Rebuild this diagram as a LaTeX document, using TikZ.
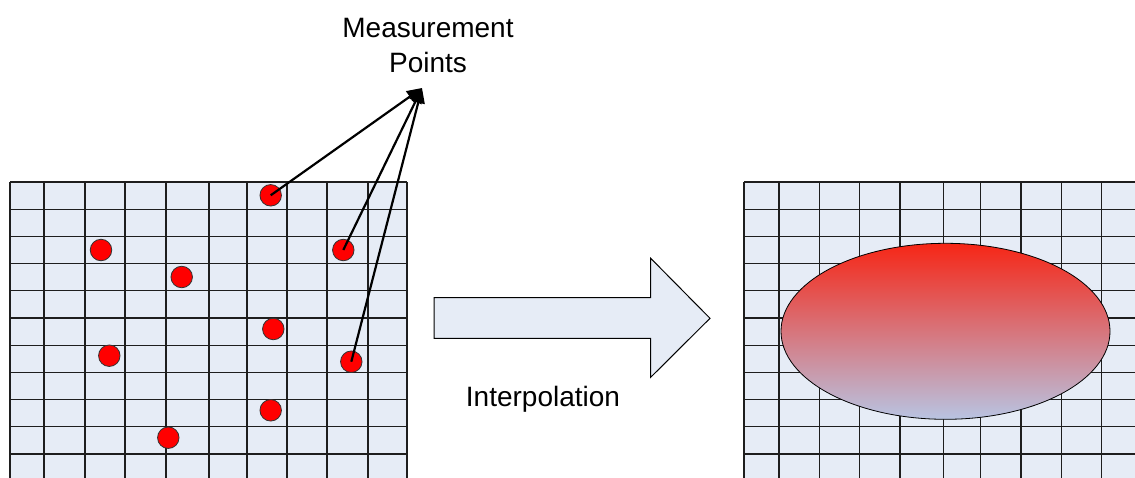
\documentclass[tikz,border=0pt]{standalone}
\usepackage{fontspec}
\setmainfont{Liberation Sans}
\usetikzlibrary{arrows.meta,shapes.geometric}
\definecolor{cellfill}{RGB}{230,236,246}
\definecolor{gridline}{RGB}{30,30,30}
\definecolor{ptred}{RGB}{255,0,0}
\definecolor{hot}{RGB}{246,38,22}
\definecolor{cool}{RGB}{184,196,226}
\tikzset{
  gridstyle/.style={draw=gridline, line width=1.1pt},
  dot/.style={circle, fill=ptred, draw=black!80, line width=0.8pt, minimum size=21.5pt, inner sep=0pt},
  conn/.style={draw=black, line width=2.2pt, -{Triangle[length=15pt,width=13pt]}},
  label/.style={font=\fontsize{28}{35.4}\selectfont, inner sep=0pt, text=black},
}
\begin{document}
\begin{tikzpicture}[x=1pt,y=-1pt]
\useasboundingbox (0,0) rectangle (1135,477);
% left grid
\begin{scope}
\clip (0,0) rectangle (1135,477);
\fill[cellfill] (10,182) rectangle (407,481.2);
\foreach \x in {10,44,85,125,166,209,247,287,327,368,407}
  \draw[gridstyle] (\x,182) -- (\x,481.2);
\foreach \y in {182,209.2,236.4,263.6,290.8,318,345.2,372.4,399.6,426.8,454,481.2}
  \draw[gridstyle] (10,\y) -- (407,\y);
% right grid
\fill[cellfill] (744,182) rectangle (1141,481.2);
\foreach \x in {744,779,819.3,859.7,900,943.3,980.7,1021,1061.3,1101.7,1141}
  \draw[gridstyle] (\x,182) -- (\x,481.2);
\foreach \y in {182,209.2,236.4,263.6,290.8,318,345.2,372.4,399.6,426.8,454,481.2}
  \draw[gridstyle] (744,\y) -- (1141,\y);
\end{scope}
% measurement points
\node[dot] (d1) at (270.7,195.3) {};
\node[dot] (d2) at (101,250) {};
\node[dot] (d3) at (343.3,250) {};
\node[dot] (d4) at (181.7,277) {};
\node[dot] (d5) at (273.3,329) {};
\node[dot] (d6) at (109.3,355.7) {};
\node[dot] (d7) at (351.3,361.7) {};
\node[dot] (d8) at (270.7,410.3) {};
\node[dot] (d9) at (168.3,437.7) {};
% label and connectors
\node[label, align=center, anchor=base] (mp) at (428,72.7) {Measurement\\Points};
\coordinate (tip) at (422,88);
\draw[conn] (d1.center) -- (tip);
\draw[conn] (d3.center) -- (tip);
\draw[conn] (d7.center) -- (tip);
% block arrow
\draw[fill=cellfill, draw=black, line width=1pt]
  (434,297.7) -- (650.7,297.7) -- (650.7,258.3) -- (710,318.3) -- (650.7,377.3) -- (650.7,338.3) -- (434,338.3) -- cycle;
\node[label, anchor=base] (interp) at (543,406.7) {Interpolation};
% interpolated field
\node[ellipse, draw=black, line width=0.8pt, minimum width=329pt, minimum height=176pt, inner sep=0pt,
  top color=hot, bottom color=cool] (field) at (945.5,331.3) {};
\end{tikzpicture}
\end{document}
